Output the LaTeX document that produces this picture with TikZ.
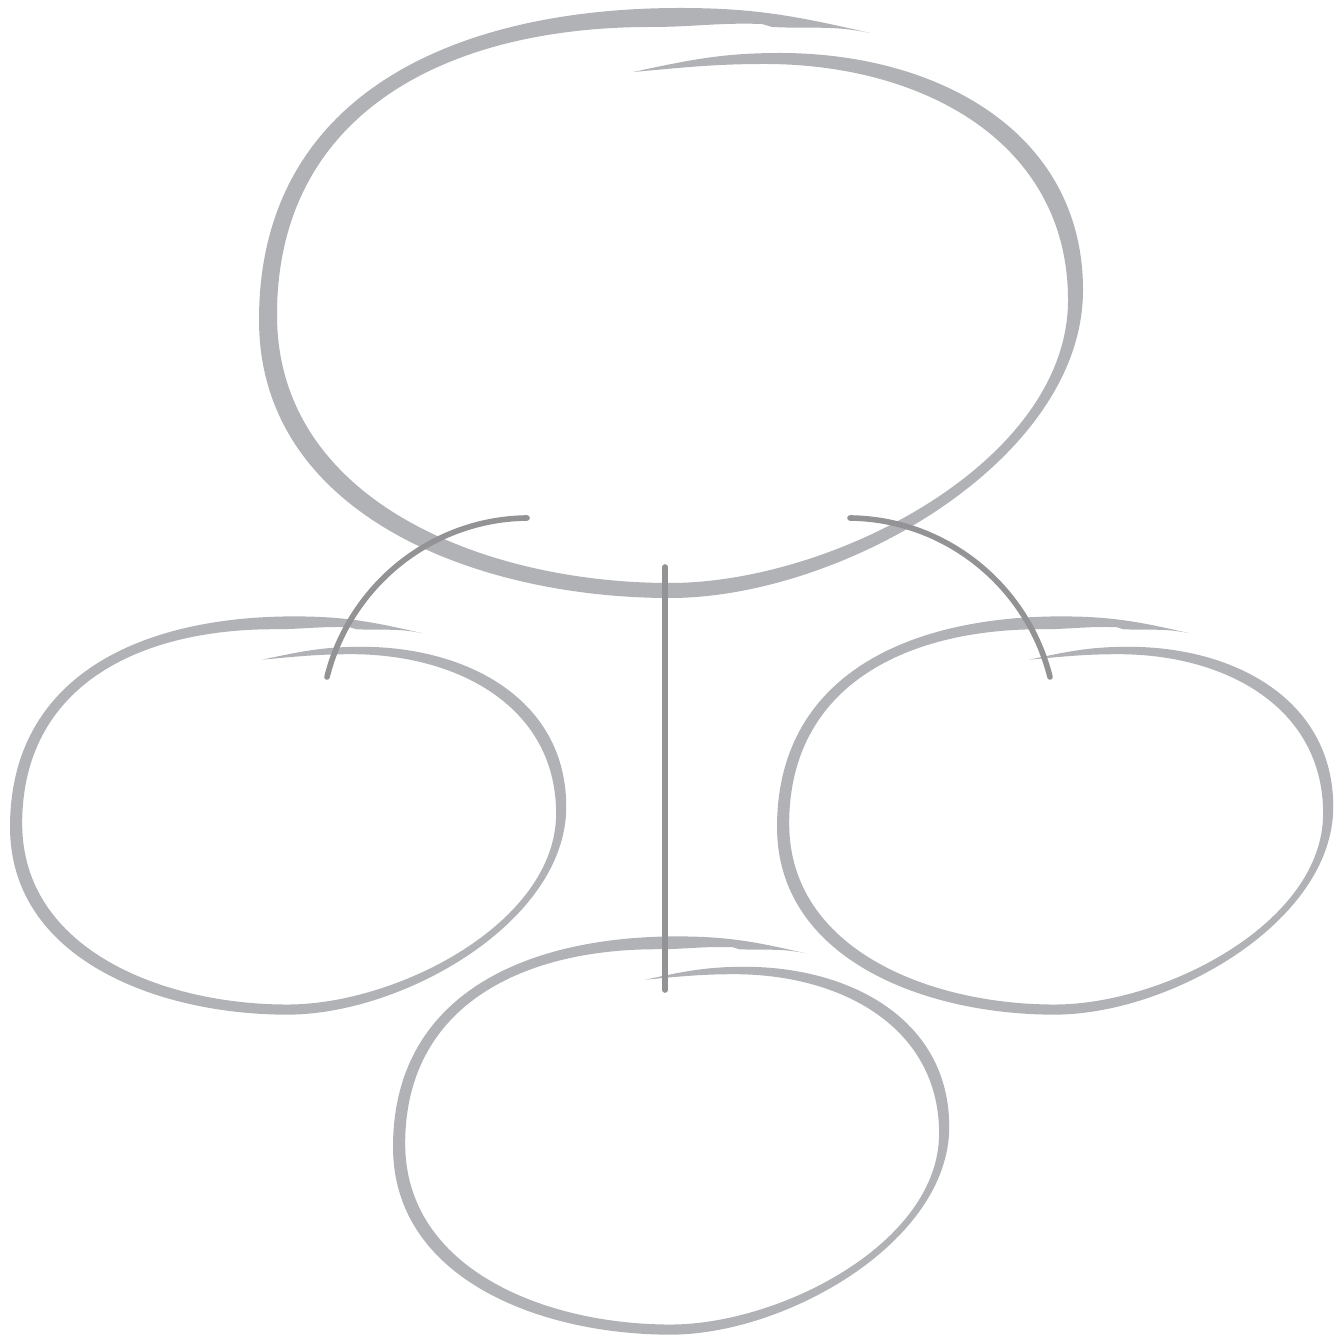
\documentclass[tikz,border=0pt]{standalone}

\definecolor{grisbulle}{HTML}{B1B2B6}
\definecolor{grislien}{HTML}{939396}

\tikzset{
  lien/.style={line width=1.6pt, line cap=round, draw=grislien}
}

% Trait a main levee d'une bulle (coordonnees de la grande bulle)
\newcommand{\bulle}{%
  \fill[grisbulle] (870,33)
    to[out=167, in=0] (680,8)
    to[out=180, in=90, looseness=1.1] (259,320)
    to[out=270, in=180] (670,598)
    to[out=0, in=270, looseness=0.85] (1083,290)
    to[out=90, in=0, looseness=1.05] (780,53)
    to[out=180, in=12] (633,72)
    to[out=5, in=180] (765,64)
    to[out=0, in=90, looseness=1.05] (1068,300)
    to[out=270, in=0, looseness=0.85] (670,583)
    to[out=180, in=270] (277,315)
    to[out=90, in=180, looseness=1.1] (650,27)
    to[out=0, in=178] (762,24) -- (772,27)
    to[out=-3, in=168] (870,33) -- cycle;%
}

\begin{document}
\begin{tikzpicture}[x=0.01cm, y=-0.01cm]

  \useasboundingbox (0,0) rectangle (1337,1337);

  % Grande bulle
  \bulle

  % Petites bulles (gauche, droite, bas)
  \foreach \dx/\dy in {-164.8/611, 602.2/611, 218.2/931} {
    \begin{scope}[shift={(\dx,\dy)}, scale=0.675]
      \bulle
    \end{scope}
  }

  % Extremites des liens
  \coordinate (departG) at (527,518);
  \coordinate (arriveeG) at (327,677);
  \coordinate (departD) at (850,518);
  \coordinate (arriveeD) at (1050,677);
  \coordinate (departM) at (665,567);
  \coordinate (arriveeM) at (665,990);

  % Liens
  \draw[lien] (departG) .. controls (432,519) and (350,585) .. (arriveeG);
  \draw[lien] (departD) .. controls (945,519) and (1027,585) .. (arriveeD);
  \draw[lien] (departM) -- (arriveeM);

\end{tikzpicture}
\end{document}
